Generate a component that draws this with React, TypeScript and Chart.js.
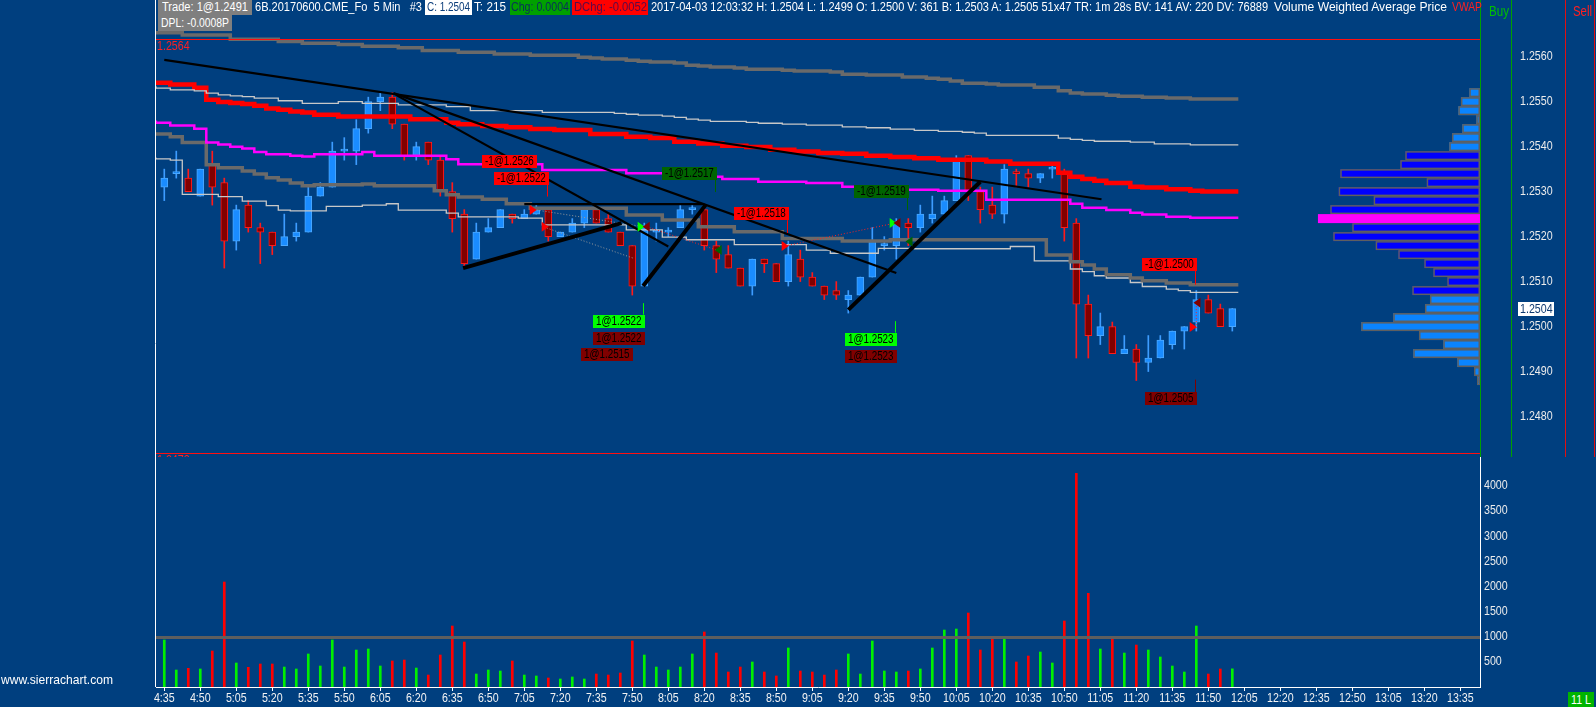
import React, { useEffect, useLayoutEffect, useRef } from 'react';
import { Chart, registerables } from 'chart.js';

Chart.register(...registerables);

const FONT = '"Liberation Sans", Arial, sans-serif';
const NARROW = 0.82;
const BG = '#003f7f';
const UP_FILL = '#1a8cff';
const UP_LINE = '#4aa8ff';
const DOWN_FILL = '#820000';
const DOWN_LINE = '#ff1a1a';

// ---------- data ----------
const TIME_LABELS = ['4:35','4:50','5:05','5:20','5:35','5:50','6:05','6:20','6:35','6:50','7:05','7:20','7:35','7:50','8:05','8:20','8:35','8:50','9:05','9:20','9:35','9:50','10:05','10:20','10:35','10:50','11:05','11:20','11:35','11:50','12:05','12:20','12:35','12:50','13:05','13:20','13:35'];
const BARS_PER_LABEL = 3;

const OPEN = [
  1.2531,1.2534,1.2533,1.2529,1.2536,1.2532,1.2519,1.2527,1.2522,1.2521,
  1.2518,1.2520,1.2521,1.2529,1.2531,1.2539,1.2539,1.2544,1.2550,1.2551,
  1.2545,1.2538,1.2541,1.2537,1.2530,1.2525,1.2515,1.2521,1.2522,1.2525,
  1.2524,1.2525,1.2526,1.2520,1.2521,1.2523,1.2526,1.2524,1.2521,1.2518,
  1.2509,1.2521,1.2521,1.2522,1.2526,1.2526,1.2518,1.2516,1.2513,1.2509,
  1.2515,1.2514,1.2510,1.2515,1.2511,1.2509,1.2508,1.2506,1.2507,1.2511,
  1.2518,1.2518,1.2523,1.2522,1.2524,1.2525,1.2528,1.2538,1.2530,1.2527,
  1.2525,1.25342,1.2534,1.2533,1.2535,1.2534,1.2523,1.2505,1.2498,1.2500,
  1.2494,1.2495,1.2492,1.2493,1.2496,1.2499,1.2501,1.2506,1.2504,1.2500,
];
const HIGH = [
  1.2535,1.2539,1.2535,1.2535,1.2539,1.2533,1.2527,1.2528,1.2523,1.2521,
  1.2525,1.2523,1.2531,1.2532,1.2541,1.2542,1.2546,1.2551,1.2552,1.2552,
  1.2545,1.2541,1.2541,1.2538,1.2532,1.2526,1.2523,1.2524,1.2526,1.2525,
  1.2526,1.2527,1.2526,1.2521,1.2524,1.2526,1.2526,1.2525,1.2521,1.2518,
  1.2523,1.2523,1.2522,1.2527,1.2527,1.2527,1.2519,1.2518,1.2513,1.2515,
  1.2515,1.2514,1.2519,1.2517,1.2512,1.2509,1.2510,1.2508,1.2511,1.2522,
  1.2520,1.2524,1.2524,1.2527,1.2529,1.2529,1.2538,1.2538,1.2531,1.2531,
  1.2536,1.2535,1.2535,1.2534,1.2536,1.2535,1.2524,1.2507,1.2503,1.2501,
  1.2498,1.2496,1.2498,1.2498,1.2499,1.2500,1.2508,1.2507,1.2505,1.2504,
];
const LOW = [
  1.2528,1.2533,1.2530,1.2529,1.2527,1.2513,1.2517,1.2521,1.2514,1.2516,
  1.2518,1.2519,1.2521,1.2529,1.2531,1.2537,1.2536,1.2543,1.2548,1.2544,
  1.2537,1.2537,1.2536,1.2529,1.2521,1.2513,1.2515,1.2521,1.2522,1.2523,
  1.2524,1.2525,1.2519,1.2520,1.2521,1.2522,1.2523,1.2521,1.2518,1.2507,
  1.2509,1.2519,1.2520,1.2522,1.2525,1.2517,1.2512,1.2513,1.2509,1.2507,
  1.2512,1.2510,1.2509,1.2510,1.2509,1.2506,1.2506,1.2503,1.2507,1.2511,
  1.2517,1.2515,1.2518,1.2521,1.2523,1.2525,1.2528,1.2528,1.2523,1.2524,
  1.2523,1.2531,1.2531,1.2532,1.2533,1.2519,1.2493,1.2493,1.2496,1.2494,
  1.2494,1.2488,1.2490,1.2493,1.2495,1.2495,1.2499,1.2503,1.2500,1.2499,
];
const CLOSE = [
  1.2533,1.2534,1.2530,1.2535,1.2531,1.2519,1.2526,1.2522,1.2521,1.2518,
  1.2520,1.2521,1.2529,1.2531,1.2539,1.2539,1.2544,1.2550,1.2551,1.2545,
  1.2538,1.2540,1.2537,1.2530,1.2524,1.2514,1.2521,1.2522,1.2526,1.2524,
  1.2525,1.2526,1.2520,1.2521,1.2523,1.2526,1.2523,1.2521,1.2518,1.2509,
  1.2522,1.2521,1.2521,1.2526,1.2526,1.2518,1.2515,1.2513,1.2509,1.2515,
  1.2514,1.2510,1.2516,1.2511,1.2509,1.2507,1.2507,1.2507,1.2511,1.2519,
  1.2518,1.2523,1.2522,1.2525,1.2525,1.2528,1.2537,1.2530,1.2526,1.2525,
  1.2535,1.2534,1.2533,1.2534,1.2535,1.2522,1.2505,1.2498,1.2500,1.2494,
  1.2495,1.2492,1.2493,1.2497,1.2499,1.2500,1.2506,1.2503,1.2500,1.2504,
];
const VOLUME = [
  934,338,371,358,715,2086,477,391,457,457,
  397,358,656,417,934,397,735,755,417,517,
  536,377,238,636,1212,894,258,338,318,517,
  238,219,179,159,199,159,258,238,278,914,
  636,397,338,397,656,1093,675,298,397,497,
  298,219,775,318,298,238,338,656,258,914,
  318,298,318,358,775,1132,1152,1470,735,993,
  993,497,616,695,477,1311,4245,1861,755,954,
  675,834,735,596,417,298,1212,258,358,361,
];

const PRICE_TICKS = [1.248, 1.249, 1.25, 1.251, 1.252, 1.253, 1.254, 1.255, 1.256];
const VOLUME_TICKS = [500, 1000, 1500, 2000, 2500, 3000, 3500, 4000];
const VOLUME_REFERENCE = 1000;
const DAY_HIGH = 1.2564;
const DAY_LOW = 1.2472;

// stepped study lines: [bar index where the step starts, value]
const BAND_UPPER_OUTER: [number, number][] = [[-0.7,1.25656],[1.5,1.25653],[5.5,1.25648],[9.5,1.25639],[11.5,1.25634],[14.5,1.2563],[16.5,1.25627],[19.5,1.25623],[21.5,1.2562],[24.5,1.25614],[27.5,1.2561],[30.5,1.25606],[34.5,1.25603],[35.5,1.25599],[36.5,1.25597],[38.5,1.25595],[39.5,1.25592],[40.5,1.2559],[42.5,1.25588],[43.5,1.25586],[44.5,1.25581],[45.5,1.25579],[47.5,1.25577],[48.5,1.25575],[51.5,1.25572],[52.5,1.2557],[55.5,1.25568],[56.5,1.25566],[58.5,1.25561],[61.5,1.25559],[63.5,1.25555],[64.5,1.25552],[65.5,1.2555],[66.5,1.25546],[68.5,1.25541],[69.5,1.25539],[72.5,1.25537],[74.5,1.25532],[75.5,1.25524],[76.5,1.25519],[78.5,1.25517],[79.5,1.25514],[81.5,1.25512],[83.5,1.2551],[85.5,1.25508],[86.5,1.25506],[89.5,1.25506]];
const BAND_UPPER_INNER: [number, number][] = [[-0.7,1.25534],[0.5,1.2553],[2.5,1.25526],[3.5,1.25524],[4.5,1.25519],[5.5,1.25515],[6.5,1.25513],[7.5,1.25511],[9.5,1.25508],[11.5,1.25502],[14.5,1.25496],[16.5,1.255],[19.5,1.25496],[23.5,1.25493],[25.5,1.25489],[31.5,1.2548],[37.5,1.25476],[38.5,1.25474],[39.5,1.25472],[41.5,1.2547],[42.5,1.25468],[43.5,1.25465],[44.5,1.25461],[45.5,1.25459],[48.5,1.25456],[49.5,1.25454],[51.5,1.25452],[53.5,1.2545],[56.5,1.25448],[58.5,1.25444],[60.5,1.25442],[62.5,1.25439],[64.5,1.25436],[66.5,1.25434],[67.5,1.25432],[68.5,1.2543],[74.5,1.25425],[75.5,1.25419],[76.5,1.25416],[77.5,1.25414],[80.5,1.25412],[82.5,1.2541],[85.5,1.25406],[88.5,1.25404],[89.5,1.25404]];
const VWAP_RED: [number, number][] = [[-0.7,1.25547],[0.5,1.25542],[2.5,1.25538],[3.5,1.25531],[4.5,1.25504],[5.5,1.25499],[6.5,1.25497],[7.5,1.25495],[8.5,1.25491],[9.5,1.25485],[10.5,1.25482],[11.5,1.25478],[12.5,1.25476],[14.5,1.25471],[20.5,1.25467],[23.5,1.25461],[24.5,1.25453],[26.5,1.2545],[28.5,1.25446],[30.5,1.25443],[32.5,1.25439],[35.5,1.25437],[38.5,1.25428],[40.5,1.25422],[42.5,1.25419],[44.5,1.25411],[46.5,1.25407],[48.5,1.25402],[50.5,1.25399],[52.5,1.25393],[54.5,1.25389],[56.5,1.25386],[58.5,1.25384],[60.5,1.2538],[62.5,1.25377],[64.5,1.25374],[68.5,1.25371],[70.5,1.25367],[74.5,1.25362],[75.5,1.25342],[76.5,1.25333],[77.5,1.25328],[78.5,1.25324],[80.5,1.25319],[81.5,1.25311],[83.5,1.25309],[85.5,1.25305],[86.5,1.25302],[88.5,1.253],[89.5,1.253]];
const VWAP_MAGENTA: [number, number][] = [[-0.7,1.25458],[0.5,1.25453],[2.5,1.25447],[3.5,1.2544],[4.5,1.25409],[5.5,1.25405],[6.5,1.254],[7.5,1.25396],[8.5,1.25388],[10.5,1.25383],[11.5,1.2538],[12.5,1.25378],[16.5,1.25383],[17.5,1.25388],[23.5,1.2538],[24.5,1.25372],[31.5,1.25361],[38.5,1.25348],[42.5,1.25341],[46.5,1.25333],[49.5,1.25328],[53.5,1.25322],[56.5,1.25319],[60.5,1.25311],[64.5,1.25304],[68.5,1.25302],[75.5,1.25282],[76.5,1.25273],[78.5,1.25264],[80.5,1.25259],[81.5,1.25253],[83.5,1.25249],[85.5,1.25244],[87.5,1.25242],[89.5,1.25242]];
const BAND_LOWER_GRAY: [number, number][] = [[-0.7,1.25432],[0.5,1.25428],[1.5,1.25422],[3.5,1.25409],[4.5,1.2536],[6.5,1.25353],[7.5,1.25346],[8.5,1.25339],[9.5,1.25331],[10.5,1.25326],[11.5,1.25319],[12.5,1.25313],[16.5,1.25315],[17.5,1.25317],[22.5,1.25313],[23.5,1.25302],[24.5,1.25293],[26.5,1.25288],[28.5,1.25283],[30.5,1.25273],[38.5,1.25263],[41.5,1.25248],[44.5,1.25237],[47.5,1.25222],[51.5,1.25211],[56.5,1.25196],[60.5,1.2519],[73.5,1.25193],[75.5,1.25159],[76.5,1.25144],[77.5,1.25137],[78.5,1.25128],[80.5,1.25115],[81.5,1.25108],[83.5,1.25102],[85.5,1.25097],[86.5,1.25093],[89.5,1.25093]];
const BAND_LOWER_WHITE: [number, number][] = [[-0.7,1.25376],[0.5,1.25373],[1.5,1.2537],[4.5,1.25294],[6.5,1.25289],[8.5,1.25279],[9.5,1.25269],[10.5,1.25259],[13.5,1.25257],[16.5,1.25267],[18.5,1.2527],[19.5,1.25273],[23.5,1.25259],[24.5,1.25252],[29.5,1.25244],[31.5,1.25241],[38.5,1.25226],[41.5,1.25215],[43.5,1.25199],[47.5,1.25193],[53.5,1.25182],[55.5,1.2517],[59.5,1.25163],[62.5,1.25174],[70.5,1.25173],[72.5,1.25178],[75.5,1.25146],[76.5,1.25128],[77.5,1.25122],[78.5,1.25113],[80.5,1.25108],[81.5,1.25098],[83.5,1.25089],[84.5,1.25083],[85.5,1.2508],[87.5,1.25076],[89.5,1.25076]];

// drawn tool lines: [[bar, price], [bar, price]]
const THIN_TRENDS: [number, number][][] = [
  [[0, 1.25593], [78.1, 1.25283]],
  [[19.1, 1.25519], [61.0, 1.25119]],
  [[19.3, 1.25515], [42.0, 1.25178]],
  [[30.0, 1.25272], [45.0, 1.25272]],
];
const THICK_TRENDS: [number, number][][] = [
  [[24.9, 1.2513], [38.1, 1.2523]],
  [[39.9, 1.2509], [45.1, 1.2527]],
  [[57.0, 1.25037], [68.0, 1.25322]],
];
const GRAY_DOTTED: [number, number][][] = [
  [[31.03, 1.25259], [39.92, 1.25222]],
  [[31.87, 1.25219], [39.08, 1.25152]],
];
const RED_DOTTED: [number, number][][] = [
  [[40.2, 1.25222], [46.03, 1.2517]],
  [[51.73, 1.25179], [60.9, 1.2523]],
  [[86.0, 1.25052], [86.0, 1.24992]],
];

// trade labels
const TRADE_TEXT = ['-1@1.2526', '-1@1.2522', '-1@1.2517', '-1@1.2518', '-1@1.2519', '1@1.2522', '1@1.2522', '1@1.2515', '1@1.2523', '1@1.2523', '-1@1.2500', '1@1.2505'];
const TRADE_BAR = [31.03, 32.06, 46.03, 52.06, 62.06, 40.06, 40.06, 39.03, 61.03, 61.03, 86.03, 86.03];
const TRADE_PRICE = [1.25367, 1.2533, 1.25341, 1.25251, 1.25301, 1.25012, 1.24974, 1.24937, 1.24972, 1.24934, 1.25138, 1.2484];
const TRADE_KIND = ['order', 'order', 'fillSell', 'order', 'fillSell', 'fillBuy', 'stop', 'stop', 'fillBuy', 'stop', 'order', 'stop'];
const TRADE_STEM: (number | null)[] = [null, 1.25289, 1.25299, 1.25208, 1.25259, 1.25052, null, null, 1.25012, null, 1.25093, 1.24882];
const TRADE_COLORS: Record<string, string> = { order: '#ff0000', fillSell: '#006400', fillBuy: '#00ff00', stop: '#800000' };

// trade arrows: bar, price, kind, pointing right?
const ARROW_BAR = [30.7, 31.7, 39.7, 40.2, 46.2, 51.7, 60.7, 61.1, 62.1, 86.1, 85.7];
const ARROW_PRICE = [1.25259, 1.25222, 1.25222, 1.25222, 1.2517, 1.25179, 1.2523, 1.2523, 1.25189, 1.25053, 1.24999];
const ARROW_KIND = ['order', 'order', 'fillBuy', 'stop', 'fillSell', 'order', 'fillBuy', 'stop', 'fillSell', 'stop', 'order'];
const ARROW_RIGHT = [true, true, true, false, false, true, true, false, false, false, true];

// volume profile
const PROFILE_PRICES = [1.2552,1.2550,1.2548,1.2546,1.2544,1.2542,1.2540,1.2538,1.2536,1.2534,1.2532,1.2530,1.2528,1.2526,1.2524,1.2522,1.2520,1.2518,1.2516,1.2514,1.2512,1.2510,1.2508,1.2506,1.2504,1.2502,1.2500,1.2498,1.2496,1.2494,1.2492,1.2490,1.2488];
const PROFILE_VOLUMES = [225,400,455,78,372,588,645,1569,1674,2934,1119,2967,2232,3144,3402,2682,3081,2190,1716,1170,981,687,1422,1050,1155,1821,2493,1281,771,1401,477,126,63];
const PROFILE_ROW = 0.0002;
const POC = 1.2524;
const VALUE_AREA_HIGH = 1.2538;
const VALUE_AREA_LOW = 1.2508;

// ---------- layout constants ----------
const X_MIN = -0.69;
const X_MAX = 109.64;
const PRICE_MIN = 1.2471;
const PRICE_MAX = 1.25726;
const VOL_MAX = 4570;
const PROFILE_SHARE = 0.1224;

const pts = (pairs: [number, number][]) => pairs.map(([x, y]) => ({ x, y }));

function narrowText(ctx: any, text: string, x: number, y: number, size: number, align: string) {
  ctx.save();
  ctx.font = `${size}px ${FONT}`;
  ctx.textBaseline = 'middle';
  ctx.textAlign = 'left';
  const w = ctx.measureText(text).width * NARROW;
  const left = align === 'center' ? x - w / 2 : align === 'right' ? x - w : x;
  ctx.translate(left, y);
  ctx.scale(NARROW, 1);
  ctx.fillText(text, 0, 0);
  ctx.restore();
  return w;
}

function zeroPad(s: any) {
  s.paddingTop = 0;
  s.paddingBottom = 0;
  s.paddingLeft = 0;
  s.paddingRight = 0;
}

const overlayPlugin = {
  id: 'sierraOverlay',
  beforeDraw(chart: any) {
    const { ctx, width, height } = chart;
    ctx.save();
    ctx.fillStyle = BG;
    ctx.fillRect(0, 0, width, height);
    ctx.restore();
  },
  afterDatasetsDraw(chart: any) {
    const { ctx, chartArea: ca, scales } = chart;
    const y = scales.y, yv = scales.yVol, xp = scales.xProf, x = scales.x;
    ctx.save();
    // volume reference line
    const yr = Math.round(yv.getPixelForValue(VOLUME_REFERENCE)) + 0.5;
    ctx.strokeStyle = '#5e5e5e';
    ctx.lineWidth = 3;
    ctx.beginPath(); ctx.moveTo(ca.left, yr); ctx.lineTo(ca.right, yr); ctx.stroke();

    // day high / low
    ctx.strokeStyle = '#ff1010';
    ctx.lineWidth = 1;
    const yh = Math.round(y.getPixelForValue(DAY_HIGH)) + 0.5;
    const yl = Math.round(y.getPixelForValue(DAY_LOW)) + 0.5;
    ctx.beginPath(); ctx.moveTo(ca.left, yh); ctx.lineTo(ca.right, yh); ctx.stroke();
    ctx.beginPath(); ctx.moveTo(ca.left, yl); ctx.lineTo(ca.right, yl); ctx.stroke();
    ctx.fillStyle = '#ff2020';
    narrowText(ctx, DAY_HIGH.toFixed(4), ca.left + 1, yh + 7, 13, 'left');
    ctx.save();
    ctx.beginPath(); ctx.rect(ca.left, yl, 60, y.bottom - yl); ctx.clip();
    narrowText(ctx, DAY_LOW.toFixed(4), ca.left + 1, yl + 7, 13, 'left');
    ctx.restore();

    // volume profile
    const right = xp.getPixelForValue(0);
    PROFILE_PRICES.forEach((p, i) => {
      const top = y.getPixelForValue(p + PROFILE_ROW / 2);
      const bot = y.getPixelForValue(p - PROFILE_ROW / 2);
      const left = xp.getPixelForValue(PROFILE_VOLUMES[i]);
      const isPoc = Math.abs(p - POC) < 1e-6;
      const inVa = p <= VALUE_AREA_HIGH + 1e-6 && p >= VALUE_AREA_LOW - 1e-6;
      ctx.fillStyle = isPoc ? '#ff00ff' : inVa ? '#0000ff' : '#0a84ff';
      ctx.fillRect(left, top, right - left, bot - top);
      if (!isPoc) {
        ctx.strokeStyle = '#5f5f5f';
        ctx.lineWidth = 1.5;
        ctx.strokeRect(left + 0.75, top + 0.75, right - left - 1.5, bot - top - 1.5);
      }
    });

    // trade arrows
    ARROW_BAR.forEach((b, i) => {
      const ax = x.getPixelForValue(b);
      const ay = y.getPixelForValue(ARROW_PRICE[i]);
      const d = ARROW_RIGHT[i] ? 1 : -1;
      ctx.fillStyle = TRADE_COLORS[ARROW_KIND[i]];
      ctx.beginPath();
      ctx.moveTo(ax - d * 3, ay - 5);
      ctx.lineTo(ax + d * 4, ay);
      ctx.lineTo(ax - d * 3, ay + 5);
      ctx.closePath();
      ctx.fill();
    });

    // trade labels
    TRADE_TEXT.forEach((t, i) => {
      const xr = x.getPixelForValue(TRADE_BAR[i]);
      const yc = y.getPixelForValue(TRADE_PRICE[i]);
      ctx.font = `12px ${FONT}`;
      const w = ctx.measureText(t).width * NARROW + 6;
      const h = 13;
      const col = TRADE_COLORS[TRADE_KIND[i]];
      const stem = TRADE_STEM[i];
      if (stem !== null) {
        const ys = y.getPixelForValue(stem);
        ctx.strokeStyle = col;
        ctx.lineWidth = 1;
        ctx.beginPath();
        const sx = Math.round(xr - 2) + 0.5;
        ctx.moveTo(sx, ys > yc ? yc + h / 2 : yc - h / 2);
        ctx.lineTo(sx, ys);
        ctx.stroke();
      }
      ctx.fillStyle = col;
      const bx = Math.round(xr - w), by = Math.round(yc - h / 2);
      ctx.fillRect(bx, by, Math.round(w), h);
      ctx.fillStyle = '#000000';
      narrowText(ctx, t, bx + 3, by + h / 2 + 0.5, 12, 'left');
    });
    ctx.restore();
  },
  afterDraw(chart: any) {
    const { ctx, chartArea: ca, scales } = chart;
    const y = scales.y, yv = scales.yVol, x = scales.x;
    ctx.save();
    ctx.lineWidth = 1;
    const vline = (xx: number, y0: number, y1: number, c: string) => {
      ctx.strokeStyle = c;
      ctx.beginPath(); ctx.moveTo(xx, y0); ctx.lineTo(xx, y1); ctx.stroke();
    };
    vline(ca.left - 0.5, 0, ca.bottom, '#ffffff');
    vline(ca.right + 0.5, 0, y.bottom, '#00a000');
    vline(ca.right + 31.5, 0, y.bottom, '#00a000');
    vline(ca.right + 85.5, 0, y.bottom, '#e01010');
    vline(ca.right + 114.5, 0, y.bottom, '#e01010');
    vline(ca.right + 0.5, yv.top, yv.bottom, '#ffffff');

    // axis labels (drawn from the scales' ticks with a condensed face)
    ctx.fillStyle = '#ececec';
    y.ticks.forEach((t: any) => narrowText(ctx, Number(t.value).toFixed(4), ca.right + 40, y.getPixelForValue(t.value), 13, 'left'));
    yv.ticks.forEach((t: any) => narrowText(ctx, String(t.value), ca.right + 4, yv.getPixelForValue(t.value), 13, 'left'));
    ctx.fillStyle = '#f4f4f4';
    x.ticks.forEach((t: any, i: number) => narrowText(ctx, TIME_LABELS[i] ?? '', x.getPixelForValue(t.value), ca.bottom + 11, 13, 'center'));

    // current price marker
    const last = CLOSE[CLOSE.length - 1];
    const yc = y.getPixelForValue(last);
    ctx.fillStyle = '#ffffff';
    ctx.fillRect(ca.right + 38, Math.round(yc - 7), 36, 14);
    ctx.fillStyle = '#103a70';
    narrowText(ctx, last.toFixed(4), ca.right + 40, Math.round(yc) + 0.5, 13, 'left');
    ctx.restore();
  },
};

const HEADER = [
  { left: 158, top: 0, width: 94, height: 15, bg: '#7f7f7f', color: '#ffffff', text: 'Trade: 1@1.2491', textLeft: 162, textWidth: 86 },
  { left: 255, top: 0, height: 15, color: '#ffffff', text: '6B.20170600.CME_Fo  5 Min   #3', textLeft: 255, textWidth: 167 },
  { left: 425, top: 0, width: 47, height: 15, bg: '#ffffff', color: '#0b3d7a', text: 'C: 1.2504', textLeft: 427, textWidth: 43 },
  { left: 474, top: 0, height: 15, color: '#ffffff', text: 'T: 215', textLeft: 474, textWidth: 32 },
  { left: 510, top: 0, width: 60, height: 15, bg: '#00a000', color: '#0a2f5a', text: 'Chg: 0.0004', textLeft: 511, textWidth: 58 },
  { left: 572, top: 0, width: 76, height: 15, bg: '#ff0000', color: '#5a0a4a', text: 'DChg: -0.0052', textLeft: 574, textWidth: 73 },
  { left: 651, top: 0, height: 15, color: '#ffffff', text: '2017-04-03 12:03:32 H: 1.2504 L: 1.2499 O: 1.2500 V: 361 B: 1.2503 A: 1.2505 51x47 TR: 1m 28s BV: 141 AV: 220 DV: 76889', textLeft: 651, textWidth: 617 },
  { left: 1274, top: 0, height: 15, color: '#ffffff', text: 'Volume Weighted Average Price', textLeft: 1274, textWidth: 173 },
  { left: 1452, top: 0, height: 15, color: '#ff2020', text: 'VWAP', textLeft: 1452, textWidth: 30 },
  { left: 158, top: 15, width: 74, height: 16, bg: '#7f7f7f', color: '#ffffff', text: 'DPL: -0.0008P', textLeft: 161, textWidth: 68 },
  { left: 1489, top: 3, height: 16, color: '#00c000', text: 'Buy', textLeft: 1489, textWidth: 20, size: 14 },
  { left: 1573, top: 3, height: 16, color: '#ff2020', text: 'Sell', textLeft: 1573, textWidth: 19, size: 14 },
  { left: 1, top: 672, height: 16, color: '#ffffff', text: 'www.sierrachart.com', textLeft: 1, textWidth: 112, size: 13 },
  { left: 1568, top: 692, width: 26, height: 15, bg: '#00b400', color: '#ffffff', text: '11 L', textLeft: 1571, textWidth: 20, size: 13 },
];

function Seg(p: any) {
  const ref = useRef<HTMLSpanElement | null>(null);
  useLayoutEffect(() => {
    const el = ref.current;
    if (!el) return;
    el.style.transform = 'none';
    const w = el.getBoundingClientRect().width;
    if (w > 0) el.style.transform = `scaleX(${p.textWidth / w})`;
  }, [p.text, p.textWidth]);
  return (
    <>
      {p.bg ? <div style={{ position: 'absolute', left: p.left, top: p.top, width: p.width, height: p.height, background: p.bg }} /> : null}
      <span
        ref={ref}
        style={{
          position: 'absolute', left: p.textLeft, top: p.top, height: p.height, lineHeight: `${p.height}px`,
          fontSize: p.size || 12, fontFamily: FONT, color: p.color, whiteSpace: 'pre',
          transformOrigin: '0 50%', display: 'inline-block',
        }}
      >
        {p.text}
      </span>
    </>
  );
}

export default function App() {
  const canvasRef = useRef<HTMLCanvasElement | null>(null);

  useEffect(() => {
    const canvas = canvasRef.current;
    if (!canvas) return;
    const up = OPEN.map((o, i) => CLOSE[i] >= o);
    const lineDs = (pairs: [number, number][], color: string, width: number, order: number, extra: any = {}) => ({
      type: 'line', data: pts(pairs), xAxisID: 'x', yAxisID: 'y', borderColor: color, borderWidth: width,
      pointRadius: 0, tension: 0, fill: false, order, ...extra,
    });
    const datasets: any[] = [
      ...THIN_TRENDS.map((l) => lineDs(l, '#000000', 2.2, 0)),
      ...THICK_TRENDS.map((l) => lineDs(l, '#000000', 4, 0, { borderCapStyle: 'butt' })),
      ...GRAY_DOTTED.map((l) => lineDs(l, '#9a9a9a', 1, 0, { borderDash: [1, 2] })),
      ...RED_DOTTED.map((l) => lineDs(l, '#ff2020', 1, 0, { borderDash: [1, 2] })),
      lineDs(BAND_UPPER_OUTER, '#6a6a6a', 3.5, 1, { stepped: 'after' }),
      lineDs(BAND_UPPER_INNER, '#c8c8c8', 1.3, 1, { stepped: 'after' }),
      lineDs(VWAP_RED, '#ff0000', 4.5, 1, { stepped: 'after' }),
      lineDs(VWAP_MAGENTA, '#ff00ff', 2.5, 1, { stepped: 'after' }),
      lineDs(BAND_LOWER_GRAY, '#6a6a6a', 3.5, 1, { stepped: 'after' }),
      lineDs(BAND_LOWER_WHITE, '#c8c8c8', 1.3, 1, { stepped: 'after' }),
      {
        type: 'bar', data: OPEN.map((o, i) => ({ x: i, y: [o, CLOSE[i]] })), xAxisID: 'x', yAxisID: 'y',
        grouped: false, barThickness: 7, minBarLength: 2, borderWidth: 1, borderSkipped: false,
        backgroundColor: up.map((u) => (u ? UP_FILL : DOWN_FILL)),
        borderColor: up.map((u) => (u ? UP_LINE : DOWN_LINE)), order: 2,
      },
      {
        type: 'bar', data: OPEN.map((_, i) => ({ x: i, y: [LOW[i], HIGH[i]] })), xAxisID: 'x', yAxisID: 'y',
        grouped: false, barThickness: 1, borderWidth: 0,
        backgroundColor: up.map((u) => (u ? '#3d9cff' : '#ff1a1a')), order: 3,
      },
      {
        type: 'bar', data: VOLUME.map((v, i) => ({ x: i, y: v })), xAxisID: 'x', yAxisID: 'yVol',
        grouped: false, barThickness: 2, borderWidth: 0,
        backgroundColor: up.map((u) => (u ? '#00f000' : '#ff0000')), order: 2,
      },
    ];

    const chart = new Chart(canvas, {
      type: 'bar',
      data: { datasets },
      plugins: [overlayPlugin],
      options: {
        responsive: false,
        maintainAspectRatio: false,
        animation: false,
        events: [],
        layout: { padding: { left: 156, top: 0, right: 0, bottom: 0 } },
        plugins: { legend: { display: false }, tooltip: { enabled: false } },
        scales: {
          x: {
            type: 'linear', position: 'bottom', min: X_MIN, max: X_MAX, offset: false,
            afterBuildTicks: (s: any) => { s.ticks = TIME_LABELS.map((_, i) => ({ value: i * BARS_PER_LABEL })); },
            afterFit: (s: any) => { s.height = 20; zeroPad(s); },
            ticks: { display: false, autoSkip: false, maxRotation: 0, minRotation: 0 },
            grid: { display: true, offset: false, drawOnChartArea: false, drawTicks: true, tickLength: 4, color: '#ffffff' },
            border: { display: true, color: '#ffffff', width: 1 },
          },
          xProf: {
            type: 'linear', position: 'bottom', display: false, offset: false, reverse: true,
            min: 0, max: Math.max(...PROFILE_VOLUMES) / PROFILE_SHARE,
            grid: { offset: false },
            afterFit: (s: any) => { zeroPad(s); },
          },
          y: {
            type: 'linear', position: 'right', stack: 'panes', stackWeight: 457, weight: 0,
            min: PRICE_MIN, max: PRICE_MAX,
            afterBuildTicks: (s: any) => { s.ticks = PRICE_TICKS.map((v) => ({ value: v })); },
            afterFit: (s: any) => { s.width = 116; zeroPad(s); },
            ticks: { display: false },
            grid: { display: false, drawTicks: false },
            border: { display: false },
          },
          yVol: {
            type: 'linear', position: 'right', stack: 'panes', stackWeight: 230, weight: 1,
            min: 0, max: VOL_MAX,
            afterBuildTicks: (s: any) => { s.ticks = VOLUME_TICKS.map((v) => ({ value: v })); },
            afterFit: (s: any) => { s.width = 116; zeroPad(s); },
            ticks: { display: false },
            grid: { display: false, drawTicks: false },
            border: { display: false },
          },
        },
      } as any,
    } as any);
    return () => chart.destroy();
  }, []);

  return (
    <div style={{ position: 'fixed', left: 0, top: 0, width: 1596, height: 707, background: BG, overflow: 'hidden' }}>
      <canvas ref={canvasRef} width={1596} height={707} style={{ position: 'absolute', left: 0, top: 0, width: 1596, height: 707 }} />
      {HEADER.map((s, i) => <Seg key={i} {...s} />)}
    </div>
  );
}
